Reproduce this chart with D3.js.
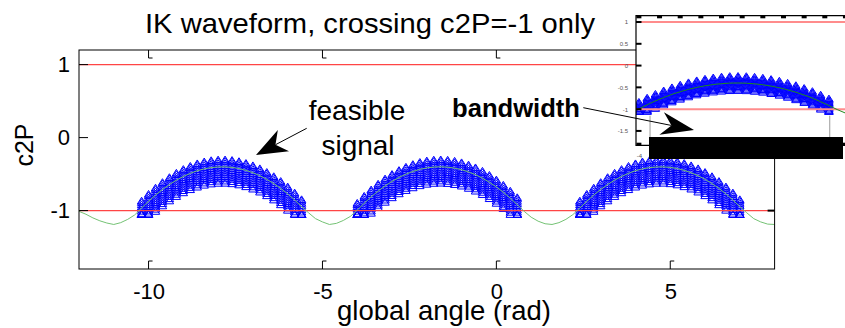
<!DOCTYPE html>
<html><head><meta charset="utf-8">
<script src="https://cdn.jsdelivr.net/npm/d3@7"></script>
<style>
body{margin:0;background:#fff}
svg{display:block}
text{font-family:"Liberation Sans",Arial,Helvetica,sans-serif}
</style>
</head><body>
<svg id="c" width="845" height="328"></svg>
<script>
// ---------------- data ----------------
const xDomain = [-12, 8];
const yDomain = [-1.8, 1.2];
const xTicks = [-10, -5, 0, 5];
const yTicks = [-1, 0, 1];
const limitLines = [-1, 1];
// [global angle (rad), c2P]
const signalPoints = [
 [-12.0,-1.01],[-11.8,-1.05],[-11.6,-1.10],[-11.4,-1.14],[-11.2,-1.17],[-11.0,-1.19],
 [-10.8,-1.165],[-10.6,-1.12],[-10.4,-1.06],[-10.2,-0.965],[-10.0,-0.872],[-9.8,-0.787],
 [-9.6,-0.711],[-9.4,-0.643],[-9.2,-0.583],[-9.0,-0.532],[-8.8,-0.489],[-8.6,-0.454],
 [-8.4,-0.428],[-8.2,-0.411],[-8.0,-0.402],[-7.8,-0.401],[-7.6,-0.408],[-7.4,-0.424],
 [-7.2,-0.449],[-7.0,-0.481],[-6.8,-0.522],[-6.6,-0.572],[-6.4,-0.630],[-6.2,-0.696],
 [-6.0,-0.771],[-5.8,-0.854],[-5.6,-0.946],[-5.4,-1.03],[-5.2,-1.11],[-5.0,-1.155],
 [-4.8,-1.19],[-4.6,-1.175],[-4.4,-1.135],[-4.2,-1.08],[-4.0,-0.995],[-3.8,-0.899],
 [-3.6,-0.812],[-3.4,-0.733],[-3.2,-0.662],[-3.0,-0.600],[-2.8,-0.546],[-2.6,-0.501],
 [-2.4,-0.464],[-2.2,-0.435],[-2.0,-0.415],[-1.8,-0.403],[-1.6,-0.400],[-1.4,-0.405],
 [-1.2,-0.419],[-1.0,-0.440],[-0.8,-0.471],[-0.6,-0.509],[-0.4,-0.556],[-0.2,-0.612],
 [0.0,-0.676],[0.2,-0.748],[0.4,-0.829],[0.6,-0.918],[0.8,-1.01],[1.0,-1.09],
 [1.2,-1.145],[1.4,-1.18],[1.6,-1.19],[1.8,-1.165],[2.0,-1.12],[2.2,-1.055],
 [2.4,-0.965],[2.6,-0.872],[2.8,-0.787],[3.0,-0.711],[3.2,-0.643],[3.4,-0.583],
 [3.6,-0.532],[3.8,-0.489],[4.0,-0.454],[4.2,-0.428],[4.4,-0.411],[4.6,-0.402],
 [4.8,-0.401],[5.0,-0.408],[5.2,-0.424],[5.4,-0.449],[5.6,-0.481],[5.8,-0.522],
 [6.0,-0.572],[6.2,-0.630],[6.4,-0.696],[6.6,-0.771],[6.8,-0.854],[7.0,-0.946],
 [7.2,-1.03],[7.4,-1.11],[7.6,-1.155],[7.8,-1.185],[8.0,-1.19]
];
const feasibleLimit = -1;
const bandFloor = -1.05;
const bandOffsets = [-0.22, -0.19, -0.16, -0.13, -0.10, -0.07, -0.04, -0.01, 0.02, 0.05, 0.08, 0.10];
const insetBandOffsets = [-0.17, -0.14, -0.11, -0.08, -0.05, -0.02, 0.01, 0.04, 0.07, 0.10, 0.13, 0.16];
const insetXDomain = [-4.07, 1.11];
const insetYDomain = [-1.83, 1.145];
const insetXTicks = [-4, -3.5, -3, -2.5, -2, -1.5, -1, -0.5, 0, 0.5, 1];
const insetXTickLabels = [-4, -3.5, -3, -2.5, -2, -1.5, -1, -0.5, 0, 0.5];
const insetYTicks = [-1.5, -1, -0.5, 0, 0.5, 1];
const insetStems = [-3.73, 0.62];
const titleText = "IK waveform, crossing c2P=-1 only";
const xLabel = "global angle (rad)";
const yLabel = "c2P";

// ---------------- drawing ----------------
const svg = d3.select('#c');
const defs = svg.append('defs');
const L = 79, R = 774.6, T = 50, B = 269;
const x = d3.scaleLinear().domain(xDomain).range([L, R]);
const y = d3.scaleLinear().domain(yDomain).range([B, T]);

defs.append('clipPath').attr('id','clipMain').append('rect')
  .attr('x',L).attr('y',T).attr('width',R-L).attr('height',B-T);

function bandPoints(offsets){
  const pts = [];
  signalPoints.forEach(([a,c]) => {
    if (c >= feasibleLimit) offsets.forEach(o => pts.push([a, Math.max(c + o, bandFloor)]));
  });
  return pts;
}

const plot = svg.append('g').attr('clip-path','url(#clipMain)');
const triMain = 'M0,-3.5L4.2,3.2L-4.2,3.2Z';
plot.selectAll('path.m').data(bandPoints(bandOffsets)).join('path')
  .attr('class','m').attr('d',triMain)
  .attr('transform',d=>`translate(${x(d[0])},${y(d[1])})`)
  .attr('fill','none').attr('stroke','#0000ff').attr('stroke-width',1);
plot.selectAll('line.lim').data(limitLines).join('line')
  .attr('class','lim')
  .attr('x1',x(xDomain[0])).attr('x2',x(xDomain[1]))
  .attr('y1',d=>y(d)).attr('y2',d=>y(d))
  .attr('stroke','#ff4545').attr('stroke-width',1.1);
plot.append('path').datum(signalPoints)
  .attr('d',d3.line().x(d=>x(d[0])).y(d=>y(d[1])))
  .attr('fill','none').attr('stroke','#74c274').attr('stroke-width',1);

// box
svg.append('rect').attr('x',L).attr('y',T).attr('width',R-L).attr('height',B-T)
  .attr('fill','none').attr('stroke','#000').attr('stroke-width',1);

// ticks
const tk = svg.append('g').attr('fill','none').attr('stroke','#000').attr('stroke-width',1);
xTicks.forEach(t => {
  const px = x(t);
  tk.append('path').attr('d',`M${px},${B}V${B-8}H${px+4}`);
  tk.append('path').attr('d',`M${px},${T}V${T+8}H${px+4}`);
});
yTicks.forEach(t => {
  const py = y(t);
  tk.append('path').attr('d',`M${L},${py}H${L+9}`);
  tk.append('path').attr('d',`M${R},${py}H${R-7}`).attr('stroke-width',2);
});

// axes labels via d3 axes
const ax = svg.append('g').attr('transform',`translate(0,${B})`)
  .call(d3.axisBottom(x).tickValues(xTicks).tickSize(0).tickPadding(14).tickFormat(d=>String(d)));
ax.select('.domain').remove();
ax.selectAll('text').attr('font-size',22).attr('fill','#000').style('font-family','"Liberation Sans",Arial,sans-serif');
const ay = svg.append('g').attr('transform',`translate(${L},0)`)
  .call(d3.axisLeft(y).tickValues(yTicks).tickSize(0).tickPadding(9).tickFormat(d=>String(d)));
ay.select('.domain').remove();
ay.selectAll('text').attr('font-size',22).attr('fill','#000').style('font-family','"Liberation Sans",Arial,sans-serif');

svg.append('text').attr('x',145).attr('y',33).attr('font-size',28)
  .attr('textLength',450).attr('lengthAdjust','spacingAndGlyphs').text(titleText);
svg.append('text').attr('x',337).attr('y',320).attr('font-size',27.5).text(xLabel);
svg.append('text').attr('transform','translate(33,145) rotate(-90)')
  .attr('text-anchor','middle').attr('font-size',25).text(yLabel);

// feasible signal annotation
svg.append('text').attr('x',357).attr('y',120).attr('text-anchor','middle').attr('font-size',28).text('feasible');
svg.append('text').attr('x',358).attr('y',155).attr('text-anchor','middle').attr('font-size',28).text('signal');

function arrow(x1,y1,x2,y2,len,hw,notch){
  const dx=x1-x2, dy=y1-y2, d=Math.hypot(dx,dy), ux=dx/d, uy=dy/d, nx=-uy, ny=ux;
  const g = svg.append('g');
  g.append('line').attr('x1',x1).attr('y1',y1).attr('x2',x2+ux*notch).attr('y2',y2+uy*notch)
    .attr('stroke','#000').attr('stroke-width',1);
  const pts=[[x2,y2],[x2+ux*len+nx*hw,y2+uy*len+ny*hw],[x2+ux*notch,y2+uy*notch],[x2+ux*len-nx*hw,y2+uy*len-ny*hw]];
  g.append('path').attr('d','M'+pts.map(p=>p.join(',')).join('L')+'Z').attr('fill','#000');
}
arrow(306.7,128.3,256,155,31,12,22);

// ---------------- inset ----------------
const IL=636, IR=850, IT=15.7, IB=145.3;
const ix = d3.scaleLinear().domain(insetXDomain).range([IL, IR]);
const iy = d3.scaleLinear().domain(insetYDomain).range([IB, IT]);
defs.append('clipPath').attr('id','clipInset').append('rect')
  .attr('x',IL).attr('y',IT).attr('width',IR-IL).attr('height',IB-IT);
svg.append('rect').attr('x',IL).attr('y',IT).attr('width',IR-IL).attr('height',IB-IT).attr('fill','#fff');
const ip = svg.append('g').attr('clip-path','url(#clipInset)');
ip.selectAll('line.stem').data(insetStems).join('line').attr('class','stem')
  .attr('x1',d=>ix(d)).attr('x2',d=>ix(d)).attr('y1',iy(-1.15)).attr('y2',IB)
  .attr('stroke','#9a9a9a').attr('stroke-width',1);
const triInset = 'M0,-3.5L4.2,3L-4.2,3Z';
ip.selectAll('path.m').data(bandPoints(insetBandOffsets)).join('path')
  .attr('class','m').attr('d',triInset)
  .attr('transform',d=>`translate(${ix(d[0])},${iy(d[1])})`)
  .attr('fill','none').attr('stroke','#0000ff').attr('stroke-width',1);
ip.selectAll('line.lim').data(limitLines).join('line').attr('class','lim')
  .attr('x1',IL).attr('x2',IR).attr('y1',d=>iy(d)).attr('y2',d=>iy(d))
  .attr('stroke','#ff8c8c').attr('stroke-width',2);
ip.append('path').datum(signalPoints)
  .attr('d',d3.line().x(d=>ix(d[0])).y(d=>iy(d[1])))
  .attr('fill','none').attr('stroke','#1f8a1f').attr('stroke-width',1);
// inset frame
const ifr = svg.append('g').attr('stroke','#000').attr('fill','none');
ifr.append('path').attr('d',`M${IR},${IT}H${IL}V${IB}H${IR}`).attr('stroke-width',1.2);
const itk = svg.append('g').attr('fill','#000');
insetXTicks.forEach(t => {
  itk.append('rect').attr('x',ix(t)-2.5).attr('y',IT).attr('width',5).attr('height',2.6);
  itk.append('rect').attr('x',ix(t)-2.5).attr('y',IB-2.6).attr('width',5).attr('height',2.6);
});
insetYTicks.forEach(t => {
  itk.append('rect').attr('x',IL).attr('y',iy(t)-1).attr('width',5.5).attr('height',2);
});
const iay = svg.append('g').attr('transform',`translate(${IL},0)`)
  .call(d3.axisLeft(iy).tickValues(insetYTicks).tickSize(0).tickPadding(8).tickFormat(d=>String(d)));
iay.select('.domain').remove();
iay.selectAll('text').attr('font-size',6).attr('fill','#555');
const iax = svg.append('g').attr('transform',`translate(0,${IB})`)
  .call(d3.axisBottom(ix).tickValues(insetXTickLabels).tickSize(0).tickPadding(8).tickFormat(d=>String(d)));
iax.select('.domain').remove();
iax.selectAll('text').attr('font-size',6).attr('fill','#555');

// black box (bandwidth)
svg.append('rect').attr('x',649).attr('y',137).attr('width',194).attr('height',22).attr('fill','#000');

// bandwidth annotation
svg.append('text').attr('x',452).attr('y',117).attr('font-size',25).attr('font-weight','bold')
  .attr('textLength',128).attr('lengthAdjust','spacingAndGlyphs').text('bandwidth');
arrow(583.3,107.7,694,130,33,11.5,23);
</script>
</body></html>
